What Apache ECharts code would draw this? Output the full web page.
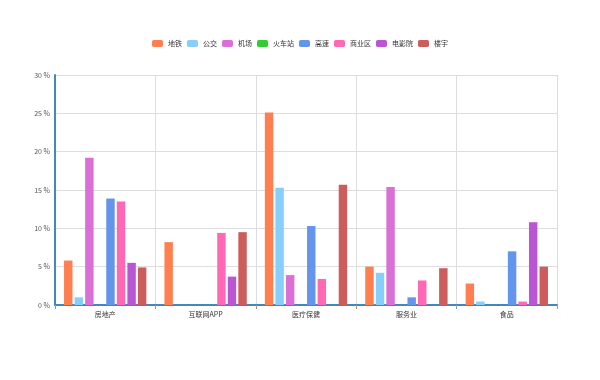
<!DOCTYPE html>
<html>
<head>
<meta charset="utf-8">
<script src="https://cdn.jsdelivr.net/npm/echarts@6/dist/echarts.min.js"></script>
<style>html,body{margin:0;padding:0;background:#fff}#c{width:600px;height:380px}</style>
</head>
<body>
<div id="c"></div>
<script>
var categories = ['房地产', '互联网APP', '医疗保健', '服务业', '食品'];
var seriesNames = ['地铁', '公交', '机场', '火车站', '高速', '商业区', '电影院', '楼宇'];
var subway   = [5.8, 8.2, 25.1, 5.0, 2.8];
var bus      = [1.0, 0, 15.3, 4.2, 0.45];
var airport  = [19.2, 0, 3.9, 15.4, 0];
var train    = [0, 0, 0, 0, 0];
var highway  = [13.9, 0, 10.3, 1.0, 7.0];
var business = [13.5, 9.4, 3.4, 3.2, 0.45];
var cinema   = [5.5, 3.7, 0, 0, 10.8];
var building = [4.9, 9.5, 15.7, 4.8, 5.0];
var yTicks = [0, 5, 10, 15, 20, 25, 30];

var values = [subway, bus, airport, train, highway, business, cinema, building];
var colors = ['#ff7f50', '#87cefa', '#da70d6', '#32cd32', '#6495ed', '#ff69b4', '#ba55d3', '#cd5c5c'];

var chart = echarts.init(document.getElementById('c'), null, {renderer: 'canvas'});
var font = "'Noto Sans CJK SC', 'Noto Sans', sans-serif";
chart.setOption({
  animation: false,
  color: colors,
  textStyle: {fontFamily: font},
  legend: {
    data: seriesNames,
    top: 35,
    left: 'center',
    itemWidth: 11,
    itemHeight: 7,
    itemGap: 5,
    icon: 'roundRect',
    textStyle: {fontSize: 7, color: '#333', fontFamily: font}
  },
  grid: {left: 55, right: 43, top: 75, bottom: 75, containLabel: false},
  xAxis: {
    type: 'category',
    data: categories,
    boundaryGap: true,
    axisLine: {lineStyle: {color: '#4488bb', width: 2}},
    axisTick: {show: true, length: 4, lineStyle: {color: '#999'}},
    splitLine: {show: true, lineStyle: {color: '#ddd', width: 1}},
    axisLabel: {fontSize: 7, color: '#333', margin: 6, fontFamily: font}
  },
  yAxis: {
    type: 'value',
    min: yTicks[0],
    max: yTicks[yTicks.length - 1],
    interval: yTicks[1] - yTicks[0],
    axisLine: {show: true, lineStyle: {color: '#4488bb', width: 2}},
    axisTick: {show: false},
    splitLine: {show: true, lineStyle: {color: '#ddd', width: 1}},
    axisLabel: {formatter: '{value} %', fontSize: 7, color: '#555', margin: 5, fontFamily: font}
  },
  series: seriesNames.map(function (n, i) {
    return {
      name: n,
      type: 'bar',
      data: values[i],
      barGap: '25%',
      barCategoryGap: '18%'
    };
  })
});
</script>
</body>
</html>
